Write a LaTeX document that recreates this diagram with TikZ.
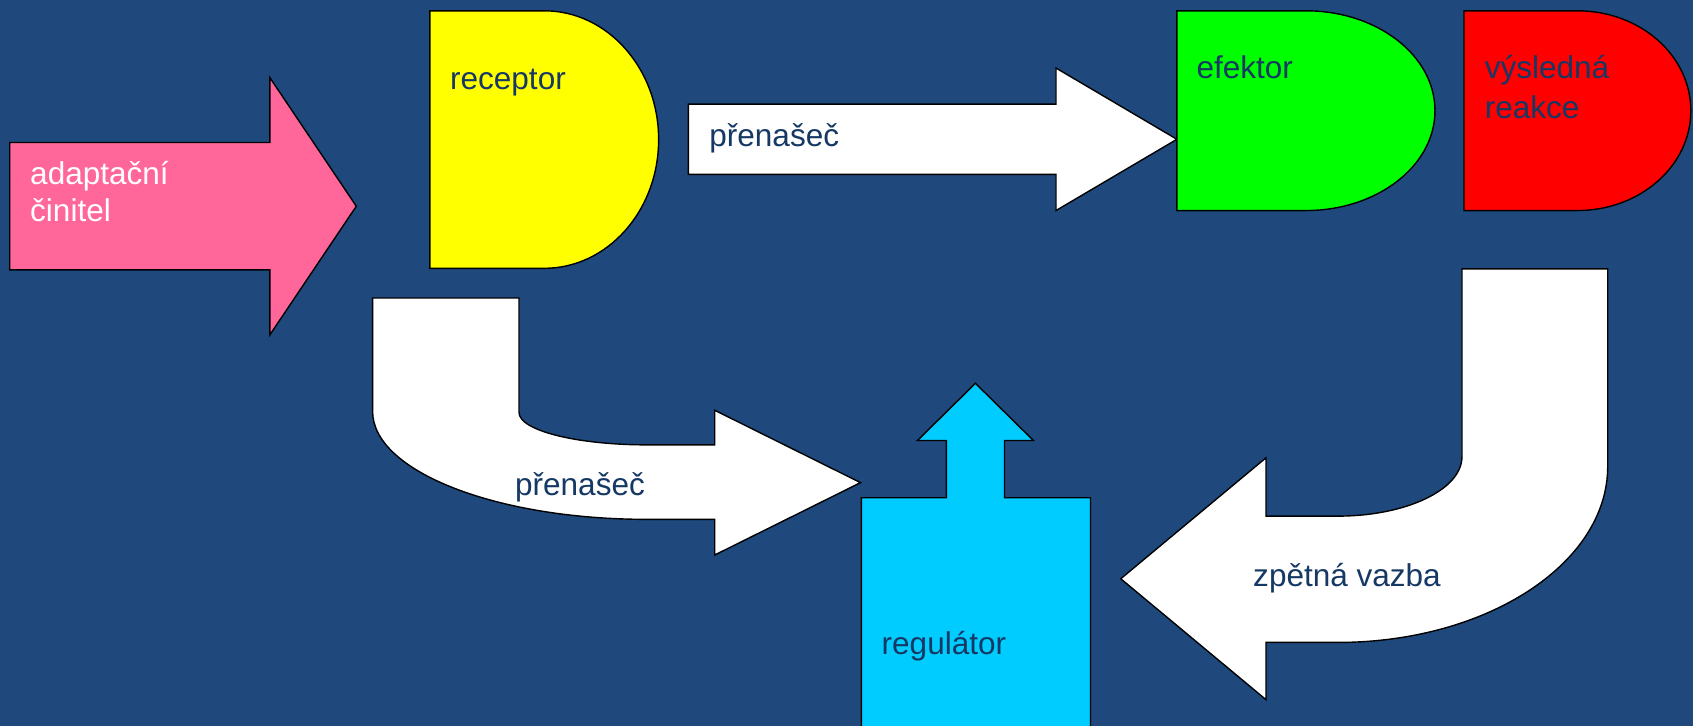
\documentclass[tikz,border=0pt]{standalone}
\usepackage{fontspec}
\setmainfont{Liberation Sans}
\definecolor{bg}{RGB}{31,73,125}
\definecolor{txt}{RGB}{22,56,100}
\definecolor{pinkf}{RGB}{255,102,153}
\definecolor{yelf}{RGB}{255,255,0}
\definecolor{grnf}{RGB}{0,255,0}
\definecolor{redf}{RGB}{255,0,0}
\definecolor{cyanf}{RGB}{0,204,255}
\begin{document}
\begin{tikzpicture}[x=1pt,y=-1pt,
  blk/.style={draw=black, line width=1.3pt, line join=miter},
  lbl/.style={anchor=base west, inner sep=0pt, font=\fontsize{29.2}{35}\selectfont, text=txt},
  wlbl/.style={lbl, text=white}]
\fill[bg] (0,0) rectangle (1568,672);
\useasboundingbox (0,0) rectangle (1568,672);

% pink arrow
\path[blk, fill=pinkf] (9,132) -- (250,132) -- (250,72) -- (330,191) -- (250,310) -- (250,250) -- (9,250) -- cycle;
% yellow receptor
\path[blk, fill=yelf] (398.2,10) -- (504.1,10) .. controls (562.6,10) and (610,63.4) .. (610,129.25)
  .. controls (610,195.1) and (562.6,248.5) .. (504.1,248.5) -- (398.2,248.5) -- cycle;
% top white arrow
\path[blk, fill=white] (637.6,96.5) -- (978,96.5) -- (978,63) -- (1090,129) -- (978,195) -- (978,161.5) -- (637.6,161.5) -- cycle;
% green efektor
\path[blk, fill=grnf] (1090,10) -- (1209.5,10) .. controls (1275.5,10) and (1329,51.4) .. (1329,102.5)
  .. controls (1329,153.6) and (1275.5,195) .. (1209.5,195) -- (1090,195) -- cycle;
% red result
\path[blk, fill=redf] (1355.9,10) -- (1461,10) .. controls (1519,10) and (1566,51.4) .. (1566,102.5)
  .. controls (1566,153.6) and (1519,195) .. (1461,195) -- (1355.9,195) -- cycle;
% lower-left bent arrow
\path[blk, fill=white] (345.1,276) -- (480.7,276) -- (480.7,382)
  .. controls (480.7,398.6) and (533.7,412) .. (599,412) -- (662,412) -- (662,380) -- (797,447)
  -- (662,514) -- (662,481) -- (599,481)
  .. controls (458.8,481) and (345.1,436.2) .. (345.1,381) -- cycle;
% right feedback arrow
\path[blk, fill=white] (1354,249) -- (1489,249) -- (1489,432)
  .. controls (1489,522) and (1377,595) .. (1239,595) -- (1172.5,595) -- (1172.5,648) -- (1038,536)
  -- (1172.5,424) -- (1172.5,478) -- (1239,478)
  .. controls (1302.5,478) and (1354,453.4) .. (1354,423) -- cycle;
% regulator (up arrow callout)
\path[blk, fill=cyanf] (797.8,680) -- (797.8,461) -- (876.5,461) -- (876.5,408) -- (849.7,408) -- (903.4,355)
  -- (957.1,408) -- (930.3,408) -- (930.3,461) -- (1010,461) -- (1010,680) -- cycle;

% labels
\node[wlbl] (adapt1) at (27.8,170.7) {adaptační};
\node[wlbl] (adapt2) at (27.8,205.3) {činitel};
\node[lbl] (rec) at (416.7,83.3) {receptor};
\node[lbl] (pren1) at (656.8,135.3) {přenašeč};
\node[lbl] (efe) at (1108,73.1) {efektor};
\node[lbl] (vys1) at (1375,73.1) {výsledná};
\node[lbl] (vys2) at (1375,110.2) {reakce};
\node[lbl] (pren2) at (476.9,459) {přenašeč};
\node[lbl] (zpet) at (1160.5,543.2) {zpětná vazba};
\node[lbl] (reg) at (816.4,606.5) {regulátor};
\end{tikzpicture}
\end{document}
